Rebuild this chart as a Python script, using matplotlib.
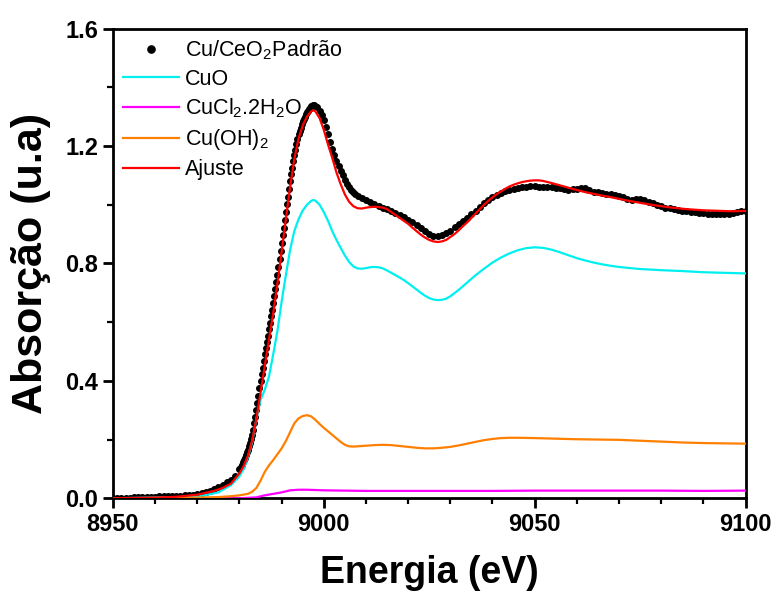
import numpy as np
import matplotlib
matplotlib.use("Agg")
import matplotlib.pyplot as plt
from matplotlib.ticker import MultipleLocator, FormatStrFormatter

plt.rcParams['font.family'] = ['Liberation Sans', 'DejaVu Sans']
plt.rcParams['mathtext.fontset'] = 'custom'
plt.rcParams['mathtext.rm'] = 'Liberation Sans'
plt.rcParams['mathtext.it'] = 'Liberation Sans:italic'
plt.rcParams['mathtext.bf'] = 'Liberation Sans:bold'

# ---- Measured sample: Cu/CeO2 Padrão ----
# energy grid of the measurement (eV)
energy_pre = np.arange(8950.0, 8980.0, 1.0)
energy_edge = np.arange(8980.0, 8998.01, 0.25)
energy_white = np.arange(8998.5, 9008.01, 0.5)
energy_post = np.arange(9009.0, 9100.01, 1.0)
sample_energy = np.concatenate([energy_pre, energy_edge, energy_white, energy_post])

sample_pre = [0.000, 0.001, 0.001, 0.002, 0.002, 0.003, 0.003, 0.004, 0.004, 0.005,
              0.005, 0.006, 0.006, 0.007, 0.008, 0.008, 0.009, 0.010, 0.011, 0.012,
              0.015, 0.017, 0.020, 0.025, 0.030, 0.037, 0.045, 0.055, 0.062, 0.075]
sample_edge = [0.100, 0.107, 0.114, 0.122, 0.130, 0.138, 0.147, 0.156, 0.165, 0.177,
               0.189, 0.202, 0.215, 0.234, 0.255, 0.277, 0.300, 0.325, 0.350, 0.375,
               0.400, 0.423, 0.445, 0.468, 0.490, 0.511, 0.532, 0.554, 0.575, 0.597,
               0.620, 0.642, 0.665, 0.688, 0.712, 0.736, 0.760, 0.787, 0.815, 0.842,
               0.870, 0.896, 0.922, 0.948, 0.975, 1.001, 1.027, 1.053, 1.080, 1.103,
               1.125, 1.148, 1.170, 1.188, 1.206, 1.223, 1.240, 1.252, 1.263, 1.274,
               1.285, 1.293, 1.300, 1.308, 1.315, 1.320, 1.325, 1.330, 1.335, 1.338,
               1.340, 1.340, 1.338]
sample_white = [1.333, 1.320, 1.306, 1.290, 1.266, 1.240, 1.215, 1.190, 1.170, 1.150,
                1.132, 1.115, 1.100, 1.085, 1.072, 1.060, 1.051, 1.043, 1.036, 1.030]
sample_post = [1.022, 1.016, 1.010, 1.003, 0.995, 0.990, 0.985, 0.980, 0.972, 0.965,
               0.958, 0.948, 0.940, 0.930, 0.920, 0.910, 0.900, 0.895, 0.895, 0.897,
               0.903, 0.912, 0.923, 0.935, 0.945, 0.955, 0.967, 0.980, 0.993, 1.005,
               1.015, 1.025, 1.033, 1.040, 1.046, 1.051, 1.055, 1.058, 1.060, 1.062,
               1.063, 1.063, 1.062, 1.061, 1.060, 1.060, 1.058, 1.056, 1.053, 1.050,
               1.052, 1.055, 1.057, 1.056, 1.050, 1.045, 1.042, 1.040, 1.038, 1.037,
               1.034, 1.030, 1.025, 1.020, 1.017, 1.018, 1.020, 1.016, 1.010, 1.005,
               1.000, 0.995, 0.990, 0.988, 0.985, 0.982, 0.980, 0.978, 0.976, 0.975,
               0.973, 0.972, 0.970, 0.969, 0.968, 0.968, 0.969, 0.970, 0.972, 0.975,
               0.977, 0.980]
sample_absorption = np.array(sample_pre + sample_edge + sample_white + sample_post)

# ---- Linear combination fit (Ajuste) ----
fit_energy = [8950, 8960, 8965, 8970, 8974, 8976, 8978, 8980, 8981, 8982, 8983, 8984,
              8985, 8986, 8987, 8988, 8989, 8990, 8991, 8992, 8993, 8994, 8995, 8996,
              8997, 8997.5, 8998, 8999, 9000, 9001, 9002, 9003, 9004, 9005, 9006, 9007,
              9008, 9009, 9010, 9011, 9012, 9013, 9014, 9015, 9016, 9017, 9018, 9019,
              9020, 9021, 9022, 9023, 9024, 9025, 9026, 9027, 9028, 9029, 9030, 9031,
              9032, 9033, 9034, 9035, 9036, 9037, 9038, 9039, 9040, 9041, 9042, 9043,
              9044, 9045, 9046, 9047, 9048, 9049, 9050, 9051, 9052, 9054, 9056, 9058,
              9060, 9062, 9064, 9066, 9068, 9070, 9072, 9074, 9076, 9078, 9080, 9082,
              9084, 9086, 9088, 9090, 9092, 9094, 9096, 9098, 9100]
fit_absorption = [0.000, 0.002, 0.005, 0.012, 0.025, 0.035, 0.050, 0.085, 0.110, 0.145,
                  0.195, 0.270, 0.360, 0.450, 0.540, 0.630, 0.730, 0.840, 0.950, 1.060,
                  1.155, 1.225, 1.270, 1.300, 1.318, 1.322, 1.318, 1.295, 1.255, 1.205,
                  1.160, 1.110, 1.070, 1.035, 1.010, 0.995, 0.988, 0.987, 0.990, 0.992,
                  0.993, 0.992, 0.990, 0.985, 0.975, 0.965, 0.955, 0.945, 0.935, 0.922,
                  0.910, 0.898, 0.888, 0.880, 0.875, 0.873, 0.875, 0.880, 0.890, 0.900,
                  0.913, 0.927, 0.940, 0.955, 0.970, 0.985, 1.000, 1.013, 1.025, 1.036,
                  1.045, 1.054, 1.062, 1.068, 1.073, 1.077, 1.080, 1.082, 1.083, 1.083,
                  1.081, 1.074, 1.066, 1.058, 1.050, 1.043, 1.037, 1.031, 1.026, 1.020,
                  1.014, 1.009, 1.004, 0.999, 0.995, 0.991, 0.988, 0.985, 0.983, 0.981,
                  0.980, 0.979, 0.978, 0.978, 0.979]

# ---- Weighted reference standards ----
cuo_energy = [8950, 8970, 8975, 8978, 8980, 8981, 8982, 8983, 8984, 8985, 8986, 8987,
              8988, 8989, 8990, 8991, 8992, 8993, 8994, 8995, 8996, 8997, 8997.5, 8998,
              8999, 9000, 9001, 9002, 9003, 9004, 9005, 9006, 9007, 9008, 9009, 9010,
              9011, 9012, 9013, 9014, 9015, 9016, 9017, 9018, 9019, 9020, 9021, 9022,
              9023, 9024, 9025, 9026, 9027, 9028, 9029, 9030, 9032, 9034, 9036, 9038,
              9040, 9042, 9044, 9046, 9048, 9050, 9052, 9054, 9056, 9058, 9060, 9062,
              9064, 9066, 9068, 9070, 9072, 9075, 9080, 9085, 9090, 9095, 9100]
cuo_absorption = [0.000, 0.005, 0.020, 0.045, 0.075, 0.100, 0.140, 0.190, 0.270, 0.335,
                  0.370, 0.415, 0.490, 0.570, 0.670, 0.760, 0.845, 0.910, 0.950, 0.980,
                  1.000, 1.013, 1.016, 1.014, 1.000, 0.975, 0.945, 0.910, 0.880, 0.853,
                  0.827, 0.805, 0.790, 0.783, 0.782, 0.784, 0.787, 0.788, 0.787, 0.783,
                  0.776, 0.768, 0.760, 0.752, 0.743, 0.733, 0.722, 0.711, 0.700, 0.690,
                  0.682, 0.677, 0.675, 0.676, 0.680, 0.688, 0.710, 0.735, 0.760, 0.782,
                  0.803, 0.820, 0.834, 0.845, 0.852, 0.855, 0.853, 0.847, 0.838, 0.828,
                  0.818, 0.810, 0.803, 0.797, 0.792, 0.788, 0.785, 0.781, 0.777, 0.774,
                  0.770, 0.768, 0.766]

cucl2_energy = [8950, 8980, 8984, 8986, 8988, 8990, 8992, 8994, 8996, 8998, 9000, 9005,
                9010, 9020, 9030, 9040, 9050, 9060, 9070, 9080, 9090, 9100]
cucl2_absorption = [0.000, 0.000, 0.003, 0.010, 0.015, 0.020, 0.027, 0.029, 0.029, 0.028,
                    0.027, 0.026, 0.025, 0.025, 0.025, 0.025, 0.026, 0.026, 0.026, 0.026,
                    0.025, 0.026]

cuoh2_energy = [8950, 8970, 8975, 8978, 8980, 8982, 8983, 8984, 8985, 8986, 8987, 8988,
                8989, 8990, 8991, 8992, 8993, 8994, 8995, 8996, 8997, 8998, 8999, 9000,
                9001, 9002, 9003, 9004, 9005, 9006, 9007, 9008, 9010, 9012, 9014, 9016,
                9018, 9020, 9022, 9024, 9026, 9028, 9030, 9032, 9034, 9036, 9038, 9040,
                9042, 9044, 9046, 9050, 9055, 9060, 9065, 9070, 9075, 9080, 9085, 9090,
                9095, 9100]
cuoh2_absorption = [0.000, 0.002, 0.004, 0.007, 0.010, 0.015, 0.022, 0.035, 0.060, 0.090,
                    0.112, 0.130, 0.150, 0.170, 0.195, 0.225, 0.255, 0.272, 0.280, 0.283,
                    0.279, 0.267, 0.253, 0.240, 0.228, 0.216, 0.204, 0.192, 0.182, 0.177,
                    0.176, 0.177, 0.179, 0.181, 0.182, 0.181, 0.178, 0.175, 0.172, 0.170,
                    0.170, 0.172, 0.175, 0.180, 0.186, 0.192, 0.198, 0.202, 0.205, 0.206,
                    0.206, 0.205, 0.203, 0.201, 0.200, 0.199, 0.196, 0.193, 0.190, 0.188,
                    0.187, 0.186]

labels = [r'Cu/CeO$_2$Padrão', 'CuO', r'CuCl$_2$.2H$_2$O', r'Cu(OH)$_2$', 'Ajuste']
colors = ['black', '#00F0F0', '#FF00FF', '#FF8000', '#FF0000']

fig = plt.figure(figsize=(7.79, 5.96), dpi=100)
ax = fig.add_axes([0.145, 0.164, 0.812, 0.788])

ax.plot(sample_energy, sample_absorption, linestyle='none', marker='o',
        markersize=4.0, color=colors[0], label=labels[0], zorder=2)
ax.plot(cuo_energy, cuo_absorption, color=colors[1], lw=1.6, label=labels[1], zorder=3)
ax.plot(cucl2_energy, cucl2_absorption, color=colors[2], lw=1.6, label=labels[2], zorder=3)
ax.plot(cuoh2_energy, cuoh2_absorption, color=colors[3], lw=1.6, label=labels[3], zorder=3)
ax.plot(fit_energy, fit_absorption, color=colors[4], lw=1.6, label=labels[4], zorder=4)

ax.set_xlim(8950, 9100)
ax.set_ylim(0.0, 1.6)
ax.xaxis.set_major_locator(MultipleLocator(50))
ax.xaxis.set_minor_locator(MultipleLocator(10))
ax.yaxis.set_major_locator(MultipleLocator(0.4))
ax.yaxis.set_minor_locator(MultipleLocator(0.2))
ax.yaxis.set_major_formatter(FormatStrFormatter('%.1f'))

for s in ax.spines.values():
    s.set_linewidth(2.0)
ax.tick_params(which='major', direction='out', length=7, width=2.0,
               labelsize=17, top=False, right=False)
ax.tick_params(which='minor', direction='out', length=4, width=1.6,
               top=False, right=False)
for lab in ax.get_xticklabels() + ax.get_yticklabels():
    lab.set_fontweight('bold')

ax.set_xlabel('Energia (eV)', fontsize=27, fontweight='bold', labelpad=14)
ax.set_ylabel('Absorção (u.a)', fontsize=31, fontweight='bold', labelpad=10)

leg = ax.legend(loc='upper left', frameon=False, fontsize=15.5, handlelength=2.6,
                handletextpad=0.3, labelspacing=0.32, borderaxespad=0.15,
                borderpad=0.3, markerscale=1.3)

fig.savefig('out.png', dpi=100)
